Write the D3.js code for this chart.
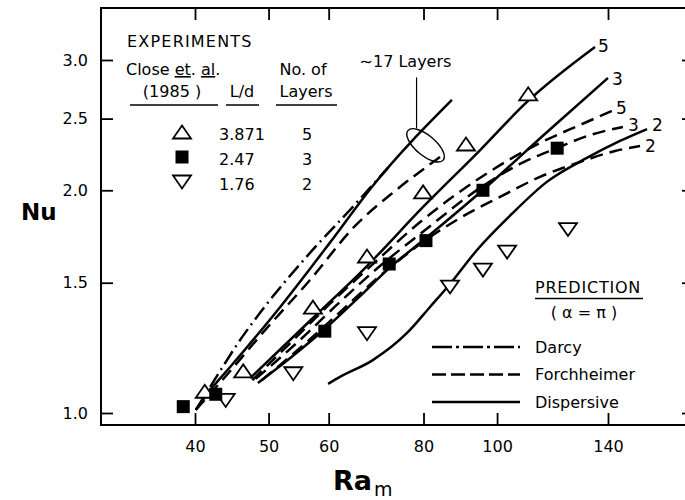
<!DOCTYPE html>
<html>
<head>
<meta charset="utf-8">
<script src="https://cdn.jsdelivr.net/npm/d3@7"></script>
<style>
  body { margin: 0; background: #fff; overflow: hidden; }
  svg text { font-family: "DejaVu Sans", sans-serif; fill: #000; }
</style>
</head>
<body>
<div id="chart"></div>
<script>
// Experiments, Close et al. (1985): [Ra_m, Nu]
const triUp   = [[41.2,1.07],[46.3,1.14],[57.2,1.39],[67.4,1.63],[79.9,1.99],[91.0,2.31],[109.9,2.70]]; // L/d 3.871, 5 layers
const squares = [[38.6,1.02],[42.6,1.06],[59.3,1.29],[72.1,1.59],[80.6,1.71],[95.8,2.00],[120.0,2.28]]; // L/d 2.47, 3 layers
const triDown = [[43.9,1.04],[53.9,1.13],[67.4,1.28],[86.7,1.48],[95.8,1.56],[103.1,1.65],[124.0,1.77]]; // L/d 1.76, 2 layers

// Predictions (alpha = pi)
const darcy17 = [[40.1,1.01],[43.5,1.154],[45.4,1.236],[48.7,1.365],[57.0,1.656],[64.0,1.881],[71.8,2.144]];
const forch17 = [[40.1,1.01],[43.2,1.10],[49.5,1.295],[56.7,1.513],[65.0,1.79],[73.4,1.996],[84.1,2.218]];
const disp17  = [[40.1,1.01],[42.2,1.084],[44.5,1.154],[51.8,1.391],[60.2,1.698],[68.4,2.021],[87.2,2.649]];
const disp5   = [[47.3,1.115],[57.2,1.344],[67.4,1.580],[79.9,1.899],[95.0,2.267],[109.5,2.633],[134.6,3.124]];
const disp3   = [[48.4,1.098],[53.4,1.187],[59.3,1.299],[66.0,1.439],[72.1,1.570],[80.6,1.724],[95.8,2.002],[115.6,2.383],[140.0,2.837]];
const disp2   = [[59.9,1.095],[62.1,1.119],[68.6,1.179],[76.1,1.283],[81.6,1.391],[86.7,1.494],[94.1,1.661],[104.9,1.864],[116.3,2.053],[131.3,2.212],[145.2,2.332],[157.6,2.420]];
const forch5  = [[47.6,1.108],[53.4,1.243],[60.2,1.404],[69.1,1.600],[79.2,1.812],[95.8,2.091],[113.9,2.317],[128.6,2.451],[141.7,2.560]];
const forch3  = [[48.1,1.112],[55.0,1.255],[62.1,1.413],[70.1,1.580],[79.2,1.746],[95.8,2.027],[107.2,2.171],[119.9,2.281],[132.6,2.375],[146.5,2.436]];
const forch2  = [[49.0,1.108],[55.0,1.224],[62.1,1.369],[70.1,1.532],[79.2,1.692],[89.4,1.835],[100.9,1.959],[113.9,2.085],[128.6,2.184],[143.0,2.260],[154.3,2.296]];

const xTicks = [40, 50, 60, 80, 100, 140];
const yTicks = [1.0, 1.5, 2.0, 2.5, 3.0];

const expLd = ["3.871", "2.47", "1.76"];
const expLayers = ["5", "3", "2"];
const predNames = ["Darcy", "Forchheimer", "Dispersive"];

// Chart size and frame (right side sits just past the picture edge)
const width = 685, height = 500;
const frame = { left: 101, right: 694, top: 8, bottom: 425 };

const svg = d3.select("#chart").append("svg")
    .attr("width", width)
    .attr("height", height)
    .style("display", "block");

// Log-log scales
const x = d3.scaleLog().domain([40, 140]).range([195, 608]);
const y = d3.scaleLog().domain([1, 3]).range([413, 60]);

// Axes (ticks point inward on all four sides)
function styleAxis(g) {
    g.select(".domain").remove();
    g.selectAll(".tick line").attr("stroke", "#000").attr("stroke-width", 1.8);
    g.selectAll(".tick text").style("font-size", "16px").style("font-family", "DejaVu Sans, sans-serif").attr("fill", "#000");
}

svg.append("g")
    .attr("transform", `translate(0,${frame.bottom})`)
    .call(d3.axisBottom(x).tickValues(xTicks).tickFormat(d3.format("d")).tickSize(-12).tickPadding(16))
    .call(styleAxis);

svg.append("g")
    .attr("transform", `translate(0,${frame.top})`)
    .call(d3.axisTop(x).tickValues(xTicks).tickFormat("").tickSize(-12))
    .call(styleAxis);

svg.append("g")
    .attr("transform", `translate(${frame.left},0)`)
    .call(d3.axisLeft(y).tickValues(yTicks).tickFormat(d3.format(".1f")).tickSize(-12).tickPadding(13))
    .call(styleAxis);

svg.append("g")
    .attr("transform", `translate(${frame.right},0)`)
    .call(d3.axisRight(y).tickValues(yTicks).tickFormat("").tickSize(-12))
    .call(styleAxis);

// Frame: top, left and bottom edges
svg.append("path")
    .attr("d", `M${frame.right},${frame.top}H${frame.left}V${frame.bottom}H${frame.right}`)
    .attr("fill", "none")
    .attr("stroke", "#000")
    .attr("stroke-width", 2);

// Axis titles
svg.append("text")
    .attr("x", 21).attr("y", 220)
    .style("font-size", "23px").style("font-weight", "bold")
    .text("Nu");

const raTitle = svg.append("text")
    .attr("x", 333).attr("y", 490)
    .style("font-size", "27px").style("font-weight", "bold")
    .text("Ra");
raTitle.append("tspan")
    .attr("dy", 6).attr("dx", 2)
    .style("font-size", "19px").style("font-weight", "normal")
    .text("m");

// Curves
const line = d3.line()
    .x(d => x(d[0]))
    .y(d => y(d[1]))
    .curve(d3.curveMonotoneX);

const dashDot = "15,5,2,5";
const dashed = "13,7";

const curves = [
    { data: darcy17, dash: dashDot },
    { data: forch17, dash: dashed },
    { data: disp17, dash: null },
    { data: disp5, dash: null, label: "5", dx: 3, dy: 5 },
    { data: disp3, dash: null, label: "3", dx: 4, dy: 7 },
    { data: forch5, dash: dashed, label: "5", dx: 4, dy: 3 },
    { data: forch3, dash: dashed, label: "3", dx: 5, dy: 4 },
    { data: disp2, dash: null, label: "2", dx: 5, dy: 2 },
    { data: forch2, dash: dashed, label: "2", dx: 5, dy: 6 }
];

svg.selectAll(".curve")
    .data(curves)
    .enter().append("path")
    .attr("class", "curve")
    .attr("d", d => line(d.data))
    .attr("fill", "none")
    .attr("stroke", "#000")
    .attr("stroke-width", 2.5)
    .attr("stroke-dasharray", d => d.dash);

// End labels (number of layers)
svg.selectAll(".endLabel")
    .data(curves.filter(d => d.label))
    .enter().append("text")
    .attr("class", "endLabel")
    .attr("x", d => x(d.data[d.data.length - 1][0]) + d.dx)
    .attr("y", d => y(d.data[d.data.length - 1][1]) + d.dy)
    .style("font-size", "17px")
    .text(d => d.label);

// "~17 Layers" note with leader and ellipse
const noteAt = [80.5, 2.30];
const nx = x(noteAt[0]), ny = y(noteAt[1]);
svg.append("ellipse")
    .attr("transform", `translate(${nx},${ny}) rotate(40)`)
    .attr("rx", 23).attr("ry", 10)
    .attr("fill", "none").attr("stroke", "#000").attr("stroke-width", 1.4);
svg.append("line")
    .attr("x1", nx - 9).attr("x2", nx - 9)
    .attr("y1", ny - 68).attr("y2", ny - 17)
    .attr("stroke", "#000").attr("stroke-width", 1.2);
svg.append("text")
    .attr("x", nx - 66).attr("y", ny - 78)
    .style("font-size", "16px")
    .text("\u223C17 Layers");

// Markers
function triPath(cx, cy, up) {
    const w = 9, h = 6.5;
    return up
        ? `M${cx - w},${cy + h}L${cx + w},${cy + h}L${cx},${cy - h}Z`
        : `M${cx - w},${cy - h}L${cx + w},${cy - h}L${cx},${cy + h}Z`;
}

svg.selectAll(".up")
    .data(triUp)
    .enter().append("path")
    .attr("d", d => triPath(x(d[0]), y(d[1]), true))
    .attr("fill", "#fff").attr("stroke", "#000").attr("stroke-width", 1.8);

svg.selectAll(".down")
    .data(triDown)
    .enter().append("path")
    .attr("d", d => triPath(x(d[0]), y(d[1]), false))
    .attr("fill", "#fff").attr("stroke", "#000").attr("stroke-width", 1.8);

svg.selectAll(".sq")
    .data(squares)
    .enter().append("rect")
    .attr("x", d => x(d[0]) - 6.5)
    .attr("y", d => y(d[1]) - 6.5)
    .attr("width", 13).attr("height", 13)
    .attr("fill", "#000");

// Experiments legend
const leg = svg.append("g");
leg.append("text").attr("x", 127).attr("y", 47)
    .style("font-size", "16px").style("letter-spacing", "1.2px")
    .text("EXPERIMENTS");

const closeText = leg.append("text").attr("x", 126).attr("y", 75).style("font-size", "16px");
closeText.append("tspan").text("Close ");
closeText.append("tspan").style("text-decoration", "underline").text("et");
closeText.append("tspan").text(". ");
closeText.append("tspan").style("text-decoration", "underline").text("al");
closeText.append("tspan").text(".");

leg.append("text").attr("x", 172).attr("y", 97).attr("text-anchor", "middle")
    .style("font-size", "16px").text("(1985 )");
leg.append("text").attr("x", 242).attr("y", 97).attr("text-anchor", "middle")
    .style("font-size", "16px").text("L/d");
leg.append("text").attr("x", 303).attr("y", 75).attr("text-anchor", "middle")
    .style("font-size", "16px").text("No. of");
leg.append("text").attr("x", 306).attr("y", 97).attr("text-anchor", "middle")
    .style("font-size", "16px").text("Layers");

[[130, 218], [226, 259], [276, 337]].forEach(function (s) {
    leg.append("line")
        .attr("x1", s[0]).attr("x2", s[1])
        .attr("y1", 105).attr("y2", 105)
        .attr("stroke", "#000").attr("stroke-width", 1.6);
});

expLd.forEach(function (ld, i) {
    const cy = 132 + i * 25;
    if (i === 0) leg.append("path").attr("d", triPath(182, cy, true))
        .attr("fill", "#fff").attr("stroke", "#000").attr("stroke-width", 1.8);
    if (i === 1) leg.append("rect").attr("x", 175.5).attr("y", cy - 6.5)
        .attr("width", 13).attr("height", 13).attr("fill", "#000");
    if (i === 2) leg.append("path").attr("d", triPath(182, cy, false))
        .attr("fill", "#fff").attr("stroke", "#000").attr("stroke-width", 1.8);
    leg.append("text").attr("x", 219).attr("y", cy + 8)
        .style("font-size", "16px").text(ld);
    leg.append("text").attr("x", 307).attr("y", cy + 8).attr("text-anchor", "middle")
        .style("font-size", "16px").text(expLayers[i]);
});

// Prediction legend
const pred = svg.append("g");
pred.append("text").attr("x", 535).attr("y", 293)
    .style("font-size", "16px").style("letter-spacing", "0.8px").text("PREDICTION");
pred.append("line").attr("x1", 535).attr("x2", 643).attr("y1", 298.5).attr("y2", 298.5)
    .attr("stroke", "#000").attr("stroke-width", 1.6);
pred.append("text").attr("x", 584).attr("y", 318).attr("text-anchor", "middle")
    .style("font-size", "16px").text("( \u03B1 = \u03C0 )");

const predDash = ["20,4,3,4", "14,5", null];
predNames.forEach(function (name, i) {
    const ly = 347 + i * 27.5;
    pred.append("line")
        .attr("x1", 432).attr("x2", 520)
        .attr("y1", ly).attr("y2", ly)
        .attr("stroke", "#000").attr("stroke-width", 2.6)
        .attr("stroke-dasharray", predDash[i]);
    pred.append("text").attr("x", 535).attr("y", ly + 5.5)
        .style("font-size", "16px").text(name);
});
</script>
</body>
</html>
